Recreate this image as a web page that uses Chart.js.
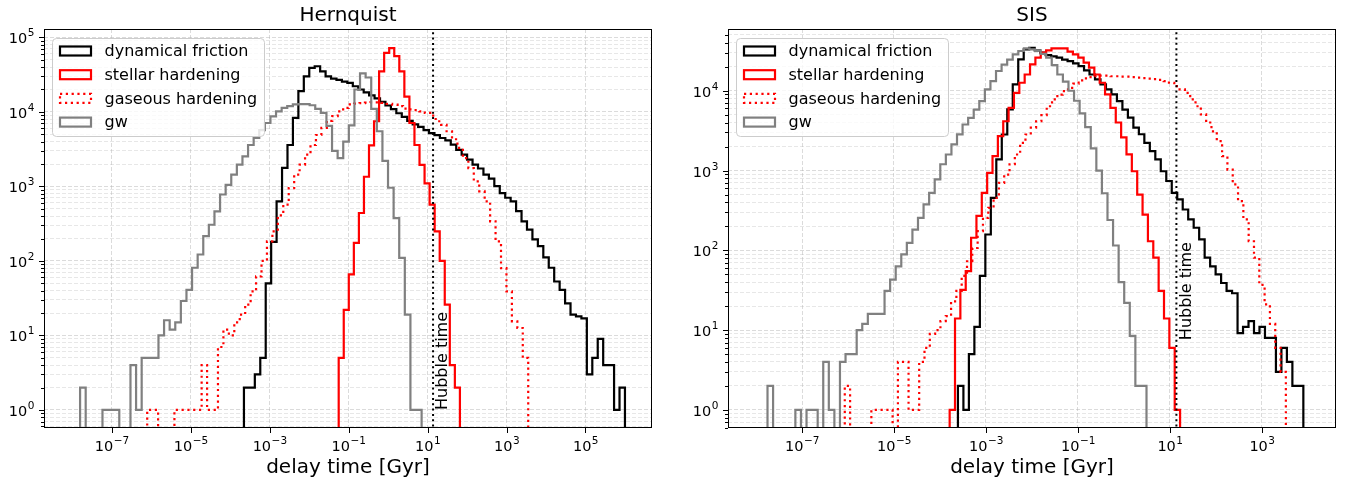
<!DOCTYPE html>
<html>
<head>
<meta charset="utf-8">
<script src="https://cdn.jsdelivr.net/npm/chart.js@4"></script>
<style>
  html, body { margin: 0; padding: 0; background: #fff; }
  #wrap { position: relative; width: 1348px; height: 485px; }
  .panel { position: absolute; top: 0; width: 674px; height: 485px; }
</style>
</head>
<body>
<div id="wrap">
  <div class="panel" style="left:0"><canvas id="hernquist"></canvas></div>
  <div class="panel" style="left:674px"><canvas id="sis"></canvas></div>
</div>
<script>
const FONT = '"DejaVu Sans", sans-serif';
const HUBBLE_TIME = 13.8; // Gyr

const seriesNames = ['dynamical friction', 'stellar hardening', 'gaseous hardening', 'gw'];

// x tick labels, as powers of ten
const hernXTicks = [-7, -5, -3, -1, 1, 3, 5];
const sisXTicks = [-7, -5, -3, -1, 1, 3];

// axis limits (log10)
const hernXLim = [-8.714, 6.685];
const hernYLim = [-0.242, 5.113];
const sisXLim = [-8.609, 4.61];
const sisYLim = [-0.226, 4.774];

// ---- Hernquist: first/last bin edge (log10 Gyr) and counts per bin ----
const hernDfEdges = [-3.65, 6.0];
const hernDf = [2, 2, 3, 5, 50, 180, 630, 1780, 3600, 8300, 19000, 30000, 39000, 41000, 35000, 30000, 28000, 27000, 25500, 24500,
  22100, 20000, 18300, 16700, 15200, 13700, 12200, 10900, 9600, 8600, 7600, 6800, 6300, 5700, 5200, 4880, 4470, 4150, 3650, 3100,
  2680, 2290, 1960, 1740, 1440, 1270, 1010, 815, 705, 630, 465, 340, 263, 195, 158, 112, 81, 53, 41, 27,
  19, 18, 17, 3, 5, 9, 4, 4, 1, 2];

const hernStellarEdges = [-1.25, 1.82];
const hernStellar = [5, 22, 66, 175, 440, 1350, 3550, 7500, 35000, 62000, 72000, 56000, 35000, 16000, 7100, 3600, 1950, 1100, 570, 250,
  100, 26, 4, 2];

const hernGasEdges = [-6.1, 3.55];
const hernGas = [1, 1, 0, 0, 0, 1, 1, 1, 1, 1, 4, 1, 1, 7, 12, 10, 15, 19, 26, 39, 62, 100, 183, 250, 410, 570, 950, 1440, 1960, 2670,
  3600, 4900, 6100, 7600, 8800, 10200, 11300, 12600, 12900, 13100, 13300, 13400, 13400, 13200, 12800, 12500, 12000, 11100, 10800, 10600,
  10200, 9700, 8900, 7500, 6700, 5500, 4300, 3300, 2400, 1760, 1170, 860, 630, 340, 183, 80, 39, 15.5, 12.6, 5];

const hernGwEdges = [-7.80, 0.85];
const hernGw = [2, 0, 0, 0, 1, 1, 1, 0, 0, 4, 1, 5, 5, 5, 10, 16, 12, 15, 29, 41, 81, 122, 215, 306, 464, 780, 1050, 1440, 1960, 2530,
  3600, 4470, 5700, 7100, 8700, 10200, 11300, 12000, 12600, 12700, 12700, 12300, 11000, 9700, 6500, 3000, 2400, 4000, 6600, 20000,
  33000, 29000, 11000, 5500, 2200, 960, 375, 110, 19, 1, 1];

// ---- SIS ----
const sisDfEdges = [-3.61, 3.90];
const sisDf = [2, 1, 5, 11, 48, 158, 455, 1380, 2830, 5850, 12000, 24700, 33000,
  34500, 32000, 30000, 28000, 27000, 26000, 24500, 23500, 22000, 20400, 18000, 16000, 13900, 12000, 10400, 9000, 7400, 5800, 4600,
  3450, 2850, 2220, 1750, 1380, 980, 740, 525, 435, 325, 245, 192, 137, 81, 63, 50, 39, 31, 29, 9.2, 11, 13, 9.2, 11, 8, 8, 3, 6, 4, 2, 2];

const sisStellarEdges = [-3.79, 1.22];
const sisStellar = [1, 14, 32, 55, 144, 270, 525, 935, 1520, 2700, 4150, 6100, 9400, 12600, 16000, 21400,
  26000, 30000, 32000, 34000, 34000, 34000, 31000, 28500, 26000, 22500, 19500, 16000, 12600, 9000, 6100, 4000, 2600, 1600, 980, 500,
  280, 130, 81, 31, 14, 6, 1];

const sisGasEdges = [-6.07, 3.52];
const sisGas = [2, 0, 0, 0, 0, 1, 1, 1, 1, 0, 4, 4, 1, 1, 4, 6, 9, 10, 13, 15, 23, 31, 48, 73, 107, 174, 256, 340, 455, 700,
  890, 1200, 1590, 2220, 2830, 3450, 4150, 4950, 6400, 7800, 8950, 9900, 10900, 12300, 13500, 14300, 14800, 15200, 15500, 15500,
  15200, 15200, 15000, 15000, 14800, 14600, 14400, 14200, 14000, 13700, 13200, 12600, 11400, 10400, 9400, 7800, 6400, 5050, 4000, 3100,
  2340, 1520, 1030, 670, 415, 245, 130, 81, 37, 21, 12, 6, 3];

const sisGwEdges = [-7.75, 0.49];
const sisGw = [2, 0, 0, 0, 0, 1, 0, 1, 1, 0, 4, 1, 0, 4, 5, 5, 10, 12, 16, 16, 16, 31, 43, 63, 89, 124, 182, 256, 377, 525,
  775, 1200, 1590, 2130, 2840, 3780, 4570, 5800, 7400, 10400, 13200, 17700, 21300, 24600, 28500, 31500, 34000, 33000, 32000, 29000,
  26000, 21000, 16000, 13000, 10000, 7500, 5200, 3500, 1900, 1000, 520, 240, 115, 40, 22, 8.5, 2, 2];

const FLOOR = 0.01; // empty bins sit below the axis

const styles = [
  { color: '#000000', dash: [] },
  { color: '#ff0000', dash: [] },
  { color: '#ff0000', dash: [2.2, 3.6] },
  { color: '#808080', dash: [] }
];

// power of ten of a tick value, or null for minor ticks
function decade(v) {
  const e = Math.round(Math.log10(v));
  return Math.abs(v / Math.pow(10, e) - 1) < 1e-6 ? e : null;
}

// "10" with a raised exponent, like matplotlib mathtext
function drawPow(ctx, e, x, baseline, align) {
  const base = '10';
  const exp = String(e).replace('-', '\u2212');
  ctx.font = '14.5px ' + FONT;
  const wb = ctx.measureText(base).width;
  ctx.font = '10.5px ' + FONT;
  const we = ctx.measureText(exp).width;
  const left = align === 'right' ? x - wb - we : x - (wb + we) / 2;
  ctx.textAlign = 'left';
  ctx.textBaseline = 'alphabetic';
  ctx.font = '14.5px ' + FONT;
  ctx.fillText(base, left, baseline);
  ctx.font = '10.5px ' + FONT;
  ctx.fillText(exp, left + wb + 0.5, baseline - 7);
}

function histPoints(edges, counts) {
  const lo = edges[0];
  const w = (edges[1] - edges[0]) / counts.length;
  const pts = [{ x: Math.pow(10, lo), y: FLOOR }];
  counts.forEach((c, i) => pts.push({ x: Math.pow(10, lo + i * w), y: c > 0 ? c : FLOOR }));
  pts.push({ x: Math.pow(10, edges[1]), y: FLOOR });
  return pts;
}

const panelDecor = {
  id: 'panelDecor',
  afterDatasetsDraw(chart, args, opts) {
    const { ctx, chartArea: a, scales: { x, y } } = chart;

    // Hubble time label
    ctx.save();
    ctx.translate(x.getPixelForValue(HUBBLE_TIME) + 2, y.getPixelForValue(opts.hubbleLabelY));
    ctx.rotate(-Math.PI / 2);
    ctx.font = '16px ' + FONT;
    ctx.fillStyle = '#000';
    ctx.textAlign = 'left';
    ctx.textBaseline = 'top';
    ctx.fillText('Hubble time', 0, 0);
    ctx.restore();

    // legend in the upper left corner
    const bx = a.left + 8, by = a.top + 9, bw = 212, bh = 98;
    ctx.save();
    ctx.beginPath();
    ctx.roundRect(bx + 0.5, by + 0.5, bw, bh, 4);
    ctx.fillStyle = 'rgba(255,255,255,0.8)';
    ctx.fill();
    ctx.strokeStyle = '#cccccc';
    ctx.lineWidth = 1;
    ctx.stroke();
    ctx.font = '16px ' + FONT;
    ctx.textBaseline = 'middle';
    ctx.textAlign = 'left';
    chart.data.datasets.forEach((ds, i) => {
      if (ds.isHubble) return;
      const cy = a.top + 22 + i * 23.7;
      ctx.strokeStyle = ds.borderColor;
      ctx.lineWidth = 2.2;
      ctx.setLineDash(ds.borderDash);
      ctx.strokeRect(a.left + 16, cy - 4.5, 31, 9);
      ctx.setLineDash([]);
      ctx.fillStyle = '#000';
      ctx.fillText(ds.label, a.left + 60.5, cy + 1);
    });
    ctx.restore();
  },
  afterDraw(chart) {
    const { ctx, chartArea: a, scales: { x, y } } = chart;
    ctx.save();
    ctx.strokeStyle = '#000';
    ctx.fillStyle = '#000';
    ctx.lineWidth = 1;
    ctx.beginPath();
    y.ticks.forEach(t => {
      const py = Math.round(y.getPixelForValue(t.value)) + 0.5;
      const len = t.major ? 5 : 3;
      ctx.moveTo(a.left - len, py);
      ctx.lineTo(a.left, py);
    });
    x.ticks.forEach(t => {
      const px = Math.round(x.getPixelForValue(t.value)) + 0.5;
      ctx.moveTo(px, a.bottom);
      ctx.lineTo(px, a.bottom + 5);
    });
    ctx.stroke();
    ctx.strokeRect(a.left + 0.5, a.top + 0.5, a.right - a.left - 1, a.bottom - a.top - 1);

    // tick labels
    y.ticks.forEach(t => {
      const e = decade(t.value);
      if (e === null) return;
      drawPow(ctx, e, a.left - 10, y.getPixelForValue(t.value) + 6, 'right');
    });
    x.ticks.forEach(t => {
      const e = decade(t.value);
      if (e === null) return;
      drawPow(ctx, e, x.getPixelForValue(t.value), a.bottom + 22.5, 'center');
    });
    ctx.restore();
  }
};

function makePanel(id, cfg) {
  const datasets = cfg.series.map((s, i) => ({
    label: seriesNames[i],
    data: histPoints(s[0], s[1]),
    borderColor: styles[i].color,
    borderDash: styles[i].dash,
    borderWidth: 2.2,
    stepped: 'before',
    pointRadius: 0,
    fill: false,
    clip: 0,
    order: 4 - i
  }));
  datasets.push({
    label: 'Hubble time',
    isHubble: true,
    data: [{ x: HUBBLE_TIME, y: FLOOR }, { x: HUBBLE_TIME, y: 1e9 }],
    borderColor: '#000000',
    borderDash: [2, 3.3],
    borderWidth: 2,
    pointRadius: 0,
    clip: 0,
    order: 0
  });

  new Chart(document.getElementById(id), {
    type: 'line',
    data: { datasets: datasets },
    plugins: [panelDecor],
    options: {
      responsive: true,
      maintainAspectRatio: false,
      animation: false,
      events: [],
      layout: { padding: { left: 0, right: cfg.padRight, top: 0, bottom: 0 } },
      plugins: {
        legend: { display: false },
        tooltip: { enabled: false },
        title: {
          display: true,
          text: cfg.title,
          fullSize: false,
          color: '#000',
          font: { family: FONT, size: 20, weight: 'normal' },
          padding: { top: 4, bottom: 1 }
        },
        panelDecor: { hubbleLabelY: cfg.hubbleLabelY }
      },
      scales: {
        x: {
          type: 'logarithmic',
          bounds: 'data',
          min: Math.pow(10, cfg.xLim[0]),
          max: Math.pow(10, cfg.xLim[1]),
          afterBuildTicks: s => { s.ticks = cfg.xTicks.map(e => ({ value: Math.pow(10, e), major: true })); },
          afterFit: s => { s.height = 57; },
          ticks: { display: false },
          grid: { drawTicks: false, color: 'rgba(176,176,176,0.45)', lineWidth: 1 },
          border: { display: false, dash: [4, 2] },
          title: {
            display: true, text: 'delay time [Gyr]', color: '#000',
            font: { family: FONT, size: 20 }, padding: { top: 0, bottom: 5 }
          }
        },
        y: {
          type: 'logarithmic',
          bounds: 'data',
          min: Math.pow(10, cfg.yLim[0]),
          max: Math.pow(10, cfg.yLim[1]),
          afterBuildTicks: s => {
            const ticks = [];
            for (let k = Math.floor(cfg.yLim[0]); k <= Math.ceil(cfg.yLim[1]); k++) {
              for (let m = 1; m <= 9; m++) {
                const lv = k + Math.log10(m);
                if (lv >= cfg.yLim[0] && lv <= cfg.yLim[1]) ticks.push({ value: m * Math.pow(10, k), major: m === 1 });
              }
            }
            s.ticks = ticks;
          },
          afterFit: s => { s.width = cfg.yAxisWidth; },
          ticks: { display: false },
          grid: {
            drawTicks: false, lineWidth: 1,
            color: c => (c.tick && c.tick.major) ? 'rgba(176,176,176,0.45)' : 'rgba(176,176,176,0.3)'
          },
          border: { display: false, dash: [4, 2] }
        }
      }
    }
  });
}

makePanel('hernquist', {
  title: 'Hernquist',
  xLim: hernXLim, yLim: hernYLim, xTicks: hernXTicks,
  yAxisWidth: 44, padRight: 22, hubbleLabelY: 1,
  series: [[hernDfEdges, hernDf], [hernStellarEdges, hernStellar], [hernGasEdges, hernGas], [hernGwEdges, hernGw]]
});

makePanel('sis', {
  title: 'SIS',
  xLim: sisXLim, yLim: sisYLim, xTicks: sisXTicks,
  yAxisWidth: 54, padRight: 12, hubbleLabelY: 7.5,
  series: [[sisDfEdges, sisDf], [sisStellarEdges, sisStellar], [sisGasEdges, sisGas], [sisGwEdges, sisGw]]
});
</script>
</body>
</html>
